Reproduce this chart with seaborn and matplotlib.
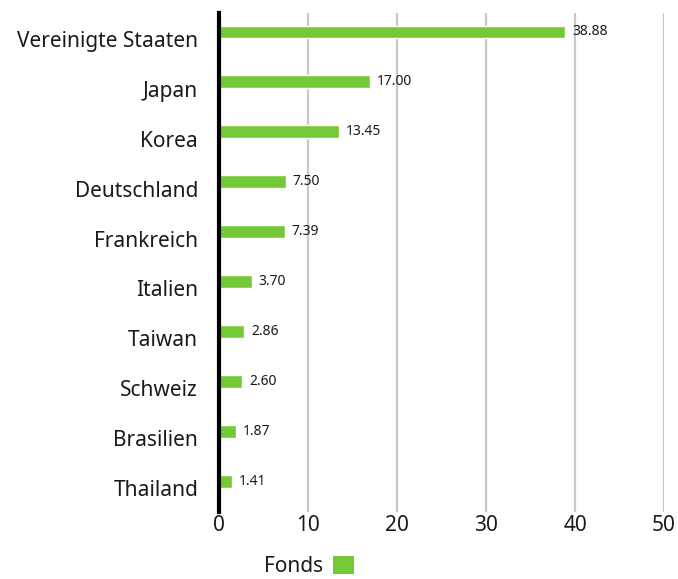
import matplotlib.pyplot as plt
import matplotlib.transforms as mtransforms
from matplotlib.patches import Patch
import pandas as pd
import seaborn as sns

# --- data ---
countries = ["Vereinigte Staaten", "Japan", "Korea", "Deutschland", "Frankreich",
             "Italien", "Taiwan", "Schweiz", "Brasilien", "Thailand"]
fonds = [38.88, 17.00, 13.45, 7.50, 7.39, 3.70, 2.86, 2.60, 1.87, 1.41]
x_ticks = [0, 10, 20, 30, 40, 50]
series_name = "Fonds"

GREEN = "#74c936"
GRID = "#c8c8c8"
TEXT = "#1a1a1a"

sns.set_theme(style="white")
plt.rcParams["font.family"] = ["Noto Sans", "DejaVu Sans"]

df = pd.DataFrame({"Land": countries, series_name: fonds})

fig = plt.figure(figsize=(6.78, 5.79), dpi=100)
ax = fig.add_axes([0.323, 0.1157, 0.9794 - 0.323, 0.9775 - 0.1157])

sns.barplot(data=df, x=series_name, y="Land", orient="h", color=GREEN,
            saturation=1, width=0.26, ax=ax, zorder=3)

# bars sit a little above the category label, as in the reference
ax.set_ylim(9.62, -0.38)
ax.set_xlim(0, 50)
ax.set_xticks(x_ticks)
ax.set_xlabel("")
ax.set_ylabel("")

ax.grid(axis="x", color=GRID, linewidth=1.6, zorder=0)
ax.grid(axis="y", visible=False)
for side in ["top", "right", "bottom"]:
    ax.spines[side].set_visible(False)
ax.spines["left"].set_color("black")
ax.spines["left"].set_linewidth(3)
ax.spines["left"].set_zorder(4)

ax.tick_params(axis="y", length=0, pad=15, labelsize=15, labelcolor=TEXT)
ax.tick_params(axis="x", length=0, pad=2, labelsize=15, labelcolor=TEXT)
offset = mtransforms.ScaledTranslation(0, -7 / 100, fig.dpi_scale_trans)
for lbl in ax.get_yticklabels():
    lbl.set_transform(lbl.get_transform() + offset)

ax.bar_label(ax.containers[0], fmt="%.2f", padding=5, fontsize=10, color=TEXT)

handle = Patch(facecolor=GREEN, edgecolor="none", label=series_name)
fig.legend(handles=[handle], loc="center left", bbox_to_anchor=(0.39, 0.022),
           frameon=False, markerfirst=False, fontsize=15, handlelength=1.0,
           handleheight=1.0, handletextpad=0.45, borderpad=0, borderaxespad=0,
           labelcolor=TEXT)

fig.savefig("out.png", dpi=100)
